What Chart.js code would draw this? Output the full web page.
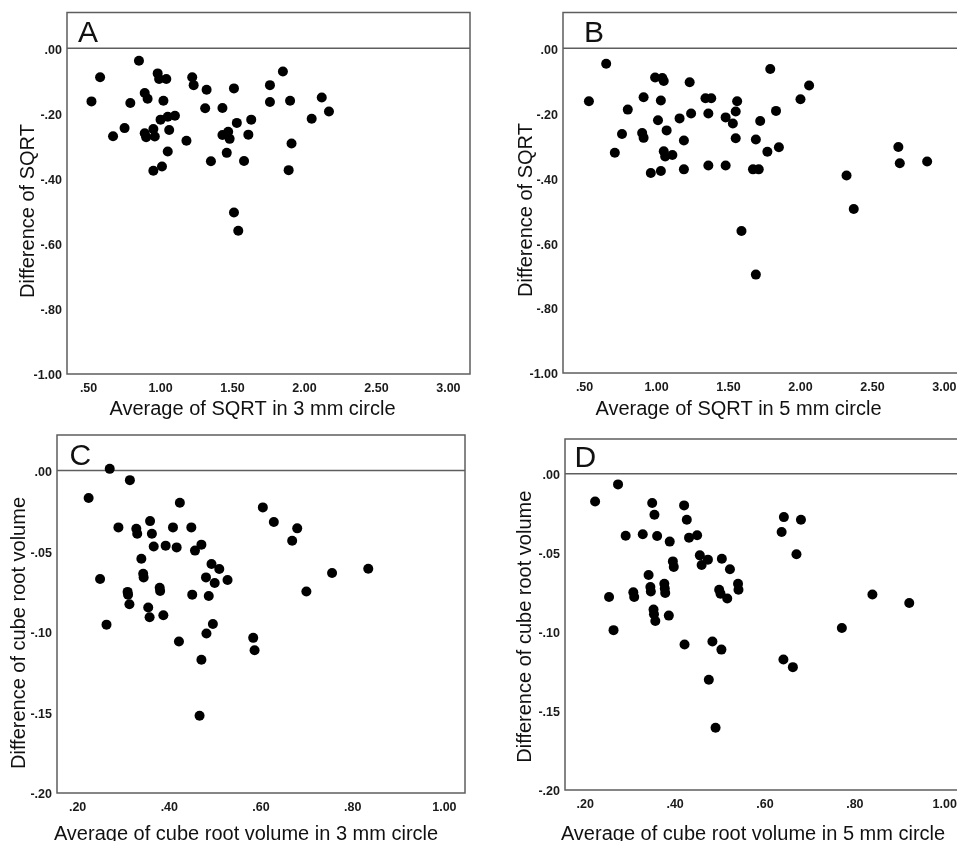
<!DOCTYPE html>
<html><head><meta charset="utf-8">
<script src="https://cdn.jsdelivr.net/npm/chart.js@4.4.1/dist/chart.umd.min.js"></script>
<style>
html,body{margin:0;padding:0;background:#fff;overflow:hidden;width:957px;height:841px;position:relative;}
canvas{position:absolute;}
</style></head><body>
<canvas id="cA" width="478" height="420" style="left:0px;top:0px"></canvas>
<canvas id="cB" width="500" height="420" style="left:478px;top:0px"></canvas>
<canvas id="cC" width="478" height="421" style="left:0px;top:420px"></canvas>
<canvas id="cD" width="500" height="421" style="left:478px;top:420px"></canvas>
<script>
// ---------- data ----------
const panelLetters = ['A', 'B', 'C', 'D'];
const xTitles = [
  'Average of SQRT in 3 mm circle',
  'Average of SQRT in 5 mm circle',
  'Average of cube root volume in 3 mm circle',
  'Average of cube root volume in 5 mm circle'
];
const yTitles = [
  'Difference of SQRT',
  'Difference of SQRT',
  'Difference of cube root volume',
  'Difference of cube root volume'
];
const sqrtXTicks = [0.5, 1.0, 1.5, 2.0, 2.5, 3.0];
const sqrtYTicks = [0, -0.2, -0.4, -0.6, -0.8, -1.0];
const cubeXTicks = [0.2, 0.4, 0.6, 0.8, 1.0];
const cubeYTicks = [0, -0.05, -0.10, -0.15, -0.20];
const refLineValue = 0;

const aX = [0.52,0.58,0.85,0.67,0.75,0.79,0.89,0.91,0.89,0.90,0.95,0.96,0.98,0.99,1.04,1.02,1.00,1.05,1.10,1.06,1.05,0.95,1.01,1.18,1.22,1.23,1.32,1.31,1.35,1.43,1.43,1.47,1.48,1.46,1.51,1.53,1.51,1.54,1.63,1.61,1.58,1.76,1.76,1.85,1.90,1.91,1.89,2.05,2.12,2.17];
const aY = [-0.163,-0.089,-0.038,-0.270,-0.245,-0.168,-0.137,-0.155,-0.261,-0.273,-0.248,-0.271,-0.077,-0.094,-0.094,-0.161,-0.219,-0.210,-0.207,-0.251,-0.317,-0.376,-0.363,-0.284,-0.089,-0.113,-0.127,-0.184,-0.347,-0.183,-0.266,-0.256,-0.278,-0.321,-0.123,-0.229,-0.504,-0.560,-0.219,-0.265,-0.346,-0.113,-0.165,-0.071,-0.161,-0.292,-0.374,-0.216,-0.151,-0.194];

const bX = [0.53,0.65,0.71,0.76,0.80,0.91,0.90,0.91,0.96,0.99,1.04,1.05,1.03,1.01,1.07,1.05,1.06,1.11,1.03,1.16,1.19,1.19,1.23,1.24,1.34,1.38,1.36,1.36,1.48,1.53,1.55,1.56,1.55,1.48,1.59,1.69,1.67,1.71,1.72,1.77,1.79,1.83,1.85,1.69,2.00,2.06,2.32,2.37,2.68,2.69,2.88];
const bY = [-0.163,-0.048,-0.322,-0.264,-0.189,-0.151,-0.261,-0.276,-0.384,-0.090,-0.092,-0.101,-0.161,-0.222,-0.253,-0.317,-0.333,-0.329,-0.378,-0.216,-0.284,-0.373,-0.105,-0.201,-0.154,-0.154,-0.201,-0.361,-0.213,-0.232,-0.195,-0.163,-0.277,-0.361,-0.563,-0.281,-0.373,-0.373,-0.224,-0.319,-0.064,-0.193,-0.305,-0.697,-0.157,-0.115,-0.392,-0.495,-0.304,-0.354,-0.349];

const cX = [0.224,0.270,0.314,0.249,0.263,0.289,0.328,0.330,0.309,0.310,0.313,0.339,0.343,0.344,0.358,0.362,0.366,0.354,0.357,0.379,0.380,0.387,0.392,0.408,0.416,0.423,0.421,0.448,0.456,0.450,0.470,0.480,0.486,0.492,0.499,0.509,0.527,0.495,0.481,0.470,0.466,0.583,0.586,0.604,0.628,0.668,0.679,0.699,0.755,0.834];
const cY = [-0.0171,0.0010,-0.0060,-0.0673,-0.0956,-0.0353,-0.0361,-0.0392,-0.0753,-0.0770,-0.0830,-0.0547,-0.0640,-0.0663,-0.0314,-0.0392,-0.0471,-0.0850,-0.0910,-0.0727,-0.0747,-0.0898,-0.0466,-0.0353,-0.0477,-0.0200,-0.1061,-0.0353,-0.0497,-0.0770,-0.0460,-0.0663,-0.0778,-0.0580,-0.0698,-0.0611,-0.0679,-0.0952,-0.1011,-0.1174,-0.1521,-0.1038,-0.1115,-0.0229,-0.0320,-0.0436,-0.0359,-0.0751,-0.0636,-0.0609];

const dX = [0.222,0.273,0.253,0.263,0.290,0.307,0.309,0.328,0.341,0.345,0.346,0.349,0.354,0.352,0.353,0.356,0.360,0.376,0.377,0.378,0.386,0.388,0.395,0.397,0.420,0.426,0.431,0.449,0.421,0.455,0.459,0.473,0.483,0.475,0.490,0.503,0.504,0.498,0.501,0.516,0.522,0.540,0.541,0.637,0.642,0.680,0.670,0.641,0.662,0.771,0.839,0.921];
const dY = [-0.0175,-0.0067,-0.0779,-0.0989,-0.0392,-0.0749,-0.0779,-0.0383,-0.0640,-0.0716,-0.0745,-0.0185,-0.0259,-0.0859,-0.0888,-0.0931,-0.0394,-0.0695,-0.0726,-0.0754,-0.0897,-0.0429,-0.0554,-0.0589,-0.0200,-0.0291,-0.0404,-0.0389,-0.1080,-0.0516,-0.0577,-0.0543,-0.1061,-0.1303,-0.1606,-0.1112,-0.0537,-0.0733,-0.0758,-0.0789,-0.0604,-0.0695,-0.0733,-0.0368,-0.0274,-0.0291,-0.0509,-0.1175,-0.1223,-0.0975,-0.0764,-0.0817];

// ---------- layout / style ----------
const FONT = "'Liberation Sans', Arial, Helvetica, sans-serif";
Chart.defaults.font.family = FONT;

const frameColor = '#5e5e5e';

function fmt(v) {
  let s = Number(v).toFixed(2);
  if (s === '-0.00') s = '0.00';
  return s.replace(/^(-?)0\./, '$1.');
}

const panelTextPlugin = {
  id: 'panelText',
  beforeDatasetsDraw(chart, args, o) {
    const ctx = chart.ctx, a = chart.chartArea;
    ctx.save();
    ctx.strokeStyle = frameColor;
    ctx.lineWidth = 1.5;
    ctx.strokeRect(a.left, a.top, a.right - a.left, a.bottom - a.top);
    ctx.restore();
  },
  afterDraw(chart, args, o) {
    const ctx = chart.ctx;
    ctx.save();
    ctx.fillStyle = '#111';
    ctx.font = '30px ' + FONT;
    ctx.textAlign = 'left';
    ctx.textBaseline = 'alphabetic';
    ctx.fillText(o.letter, o.letterX, o.letterY);
    ctx.font = '20px ' + FONT;
    ctx.textAlign = 'center';
    ctx.fillText(o.xTitle, o.xTitleX, o.xTitleY);
    ctx.translate(o.yTitleX, o.yTitleY);
    ctx.rotate(-Math.PI / 2);
    ctx.fillText(o.yTitle, 0, 0);
    ctx.restore();
  }
};

function makePanel(id, idx, xs, ys, xTicks, yTicks, range, g) {
  const pts = xs.map((x, i) => ({ x: x, y: ys[i] }));
  return new Chart(document.getElementById(id), {
    type: 'scatter',
    data: {
      datasets: [
        {
          data: pts,
          pointRadius: 5,
          pointHoverRadius: 5,
          backgroundColor: '#000',
          borderWidth: 0,
          showLine: false
        },
        {
          data: [{ x: range.xMin, y: refLineValue }, { x: range.xMax, y: refLineValue }],
          showLine: true,
          pointRadius: 0,
          borderColor: frameColor,
          borderWidth: 1.5,
          fill: false
        }
      ]
    },
    options: {
      responsive: false,
      animation: false,
      events: [],
      devicePixelRatio: 1,
      layout: { padding: { top: g.padTop, right: g.padRight, left: 0, bottom: 0 } },
      plugins: {
        legend: { display: false },
        tooltip: { enabled: false },
        panelText: {
          letter: panelLetters[idx], letterX: g.letterX, letterY: g.letterY,
          xTitle: xTitles[idx], xTitleX: g.xTitleX, xTitleY: g.xTitleY,
          yTitle: yTitles[idx], yTitleX: g.yTitleX, yTitleY: g.yTitleY
        }
      },
      scales: {
        x: {
          type: 'linear',
          min: range.xMin, max: range.xMax,
          grid: { display: false, drawTicks: false },
          border: { display: false },
          afterBuildTicks: ax => { ax.ticks = xTicks.map(v => ({ value: v })); },
          afterFit: sc => { sc.height = g.xAxisHeight; },
          ticks: {
            autoSkip: false, maxRotation: 0, padding: 7,
            color: '#1a1a1a',
            font: { size: 12.5, weight: 'bold' },
            callback: v => fmt(v)
          }
        },
        y: {
          type: 'linear',
          min: range.yMin, max: range.yMax,
          grid: { display: false, drawTicks: false },
          border: { display: false },
          afterBuildTicks: ax => { ax.ticks = yTicks.map(v => ({ value: v })); },
          afterFit: sc => { sc.width = g.yAxisWidth; },
          ticks: {
            autoSkip: false, padding: 5, labelOffset: 2,
            color: '#1a1a1a',
            font: { size: 12.5, weight: 'bold' },
            callback: v => fmt(v)
          }
        }
      }
    },
    plugins: [panelTextPlugin]
  });
}

const sqrtRange = { xMin: 0.35, xMax: 3.15, yMin: -1.0, yMax: 0.11 };
const cubeRange = { xMin: 0.155, xMax: 1.045, yMin: -0.2, yMax: 0.022 };

makePanel('cA', 0, aX, aY, sqrtXTicks, sqrtYTicks, sqrtRange,
  { yAxisWidth: 67, xAxisHeight: 46, padTop: 12, padRight: 8,
    letterX: 78, letterY: 42, xTitleX: 252.5, xTitleY: 414.5, yTitleX: 33.5, yTitleY: 211 });
makePanel('cB', 1, bX, bY, sqrtXTicks, sqrtYTicks, sqrtRange,
  { yAxisWidth: 85, xAxisHeight: 47, padTop: 12, padRight: 12,
    letterX: 106, letterY: 42, xTitleX: 260.5, xTitleY: 415, yTitleX: 53.5, yTitleY: 210 });
makePanel('cC', 2, cX, cY, cubeXTicks, cubeYTicks, cubeRange,
  { yAxisWidth: 57, xAxisHeight: 48, padTop: 15, padRight: 13,
    letterX: 69.5, letterY: 45, xTitleX: 246, xTitleY: 420, yTitleX: 25, yTitleY: 213 });
makePanel('cD', 3, dX, dY, cubeXTicks, cubeYTicks, cubeRange,
  { yAxisWidth: 87, xAxisHeight: 51, padTop: 19, padRight: 13,
    letterX: 96.5, letterY: 47, xTitleX: 275, xTitleY: 420, yTitleX: 53.3, yTitleY: 206.7 });
</script>
</body></html>
